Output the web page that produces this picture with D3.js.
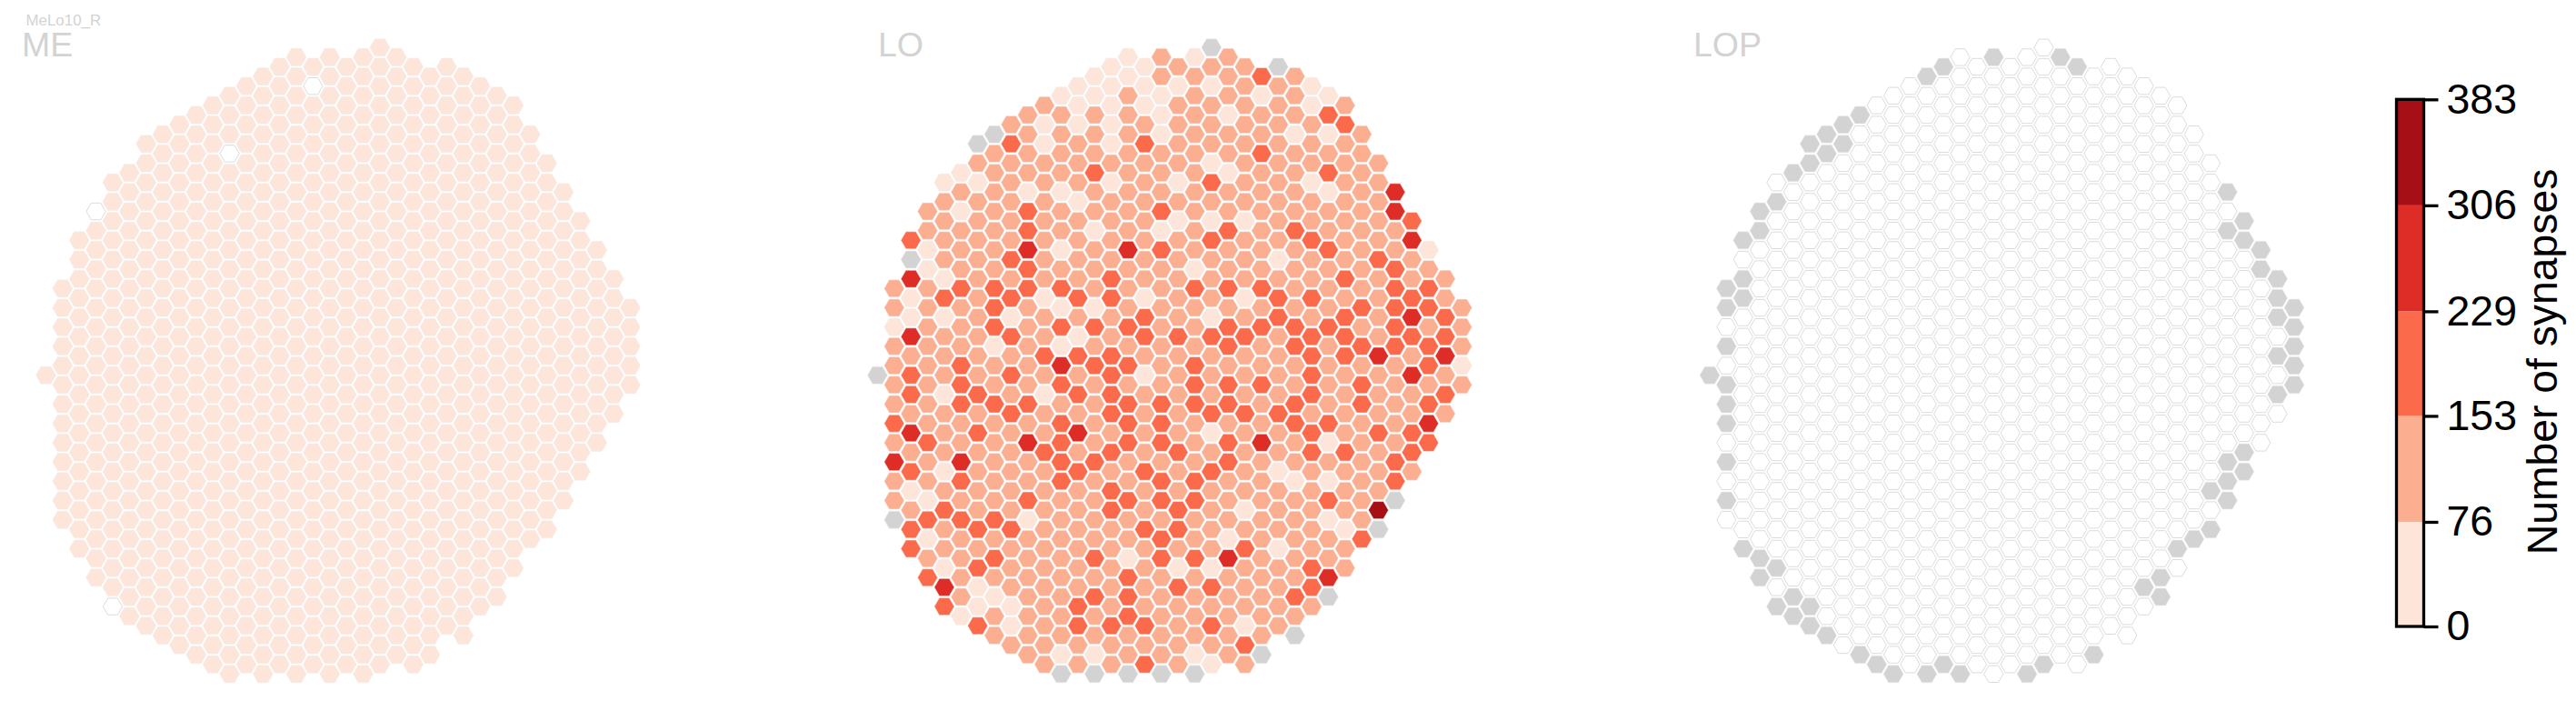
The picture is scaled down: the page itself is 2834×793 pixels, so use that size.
<!DOCTYPE html>
<html>
<head>
<meta charset="utf-8">
<script src="https://cdn.jsdelivr.net/npm/d3@7"></script>
<style>html,body{margin:0;padding:0;background:#fff}svg{display:block}text{font-family:"Liberation Sans",Arial,sans-serif}</style>
</head>
<body>
<script>
const neuropils = ["ME", "LO", "LOP"];
const cellType = "MeLo10_R";
const colorbarTicks = [0, 76, 153, 229, 306, 383];
const binColors = ["#fee5d9", "#fcae91", "#fb6a4a", "#de2d26", "#a50f15"];
const missingColor = "#d3d3d3";
const colorbarTitle = "Number of synapses";

// hex rows: row id, first column id in the row (columns step by two), one code per cell in LO
const rowIds = [-34,-33,-32,-31,-30,-29,-28,-27,-26,-25,-24,-23,-22,-21,-20,-19,-18,-17,-16,-15,-14,-13,-12,-11,-10,-9,-8,-7,-6,-5,-4,-3,-2,-1,0,1,2,3,4,5,6,7,8,9,10,11,12,13,14,15,16,17,18,19,20,21,22,23,24,25,26,27,28,29,30,31];
const rowFirstCol = [20,15,14,13,12,11,10,9,8,7,6,7,6,5,4,5,4,3,4,3,2,3,2,3,2,1,2,1,2,1,2,1,2,1,0,1,2,1,2,1,2,1,2,1,2,1,2,1,2,1,2,3,2,3,4,3,4,5,4,5,6,7,8,9,10,11];
// LO codes: 1..5 = colour bin, g = no column
const loCodes = [
"g","1212","11222g","1122232","11111221","112122121","2111222212","2222121223","21112222223",
"g22221222112","g31213222222","222222223222","2222222122222","1222322212232","11222121322122",
"22112222222124","22221222222222","212322232222224","222222211122223","222321212323222",
"3222222223223224","1224124322223221","g223222222212232","1223222212222232","41222232222223222",
"22333322233322233","13231331221332232","222321122222223332","11212223212323243","122323332233332322",
"42232123333233233","222121222232323332","22223332222233424","223224332322222231","g32232231222232242",
"223223222333223222","31321332222232223","22333223333232323","22232232233322222","32222323322233224",
"4232242221223233","23224323323421223","2222323232223323","4242233222322223","3122232323212222",
"2232232233221123","122222322222222","212232233322232g","232222323212225","g33312222222212",
"32332223322221g","12222223212223","32222222223122","2232231334222","1322222112232",
"3222223222224","412222233223","21223322223g","311232222222","12222322222",
"3123332312","222222222g","22222223","2112212g","2223212","ggggg"];
// representative synapse count per bin
const binCounts = {1: 38, 2: 115, 3: 191, 4: 268, 5: 345};
// ME: every column in the lowest bin except these empty ones [col, row]
const meCount = 38;
const meEmpty = [[16,-30],[11,-23],[3,-17],[4,24]];
// LOP: every column is empty (0 synapses) except these with no column [col, row]
const lopMissing = [[17,-33],[21,-33],[14,-32],[22,-32],[13,-31],[9,-27],[8,-26],[7,-25],[6,-24],[8,-24],[7,-23],[6,-22],[5,-21],[4,-18],[3,-17],[3,-15],[2,-14],[2,-10],[1,-9],[2,-8],[1,-7],[1,-3],[31,-19],[32,-16],[31,-15],[32,-14],[33,-13],[33,-11],[34,-10],[34,-8],[35,-7],[34,-6],[35,-5],[35,-3],[34,-2],[35,-1],[0,0],[1,1],[1,3],[1,5],[1,9],[1,13],[2,18],[3,19],[4,20],[3,21],[5,23],[4,24],[6,24],[5,25],[6,26],[7,27],[9,29],[10,30],[11,31],[13,31],[14,30],[15,31],[19,31],[20,30],[23,29],[35,1],[34,2],[32,8],[31,9],[32,10],[31,11],[30,12],[31,13],[30,16],[29,17],[28,18],[27,21],[26,22],[27,23]];

const W = 2834, H = 793;
const svg = d3.select("body").append("svg").attr("width", W).attr("height", H);

const key = (c, r) => c + "," + r;
const meEmptySet = new Set(meEmpty.map(d => key(d[0], d[1])));
const lopMissSet = new Set(lopMissing.map(d => key(d[0], d[1])));

const cells = rowIds.flatMap((r, i) => Array.from(loCodes[i], (code, j) => {
  const c = rowFirstCol[i] + 2 * j;
  return {
    c, r,
    ME: meEmptySet.has(key(c, r)) ? 0 : meCount,
    LO: code === "g" ? null : binCounts[code],
    LOP: lopMissSet.has(key(c, r)) ? null : 0
  };
}));

const color = d3.scaleThreshold().domain(colorbarTicks.slice(1, -1)).range(binColors);
const fillOf = v => v === null ? missingColor : v === 0 ? "#ffffff" : color(v);

const panelLeft = {ME: 50.5, LO: 965.4, LOP: 1881};
const y = d3.scaleLinear().domain([-34, 31]).range([52.3, 741.3]);
const hexPath = R => d3.line()(d3.range(6).map(k => [R * Math.cos(k * Math.PI / 3), R * Math.sin(k * Math.PI / 3)])) + "Z";
const filledHex = hexPath(11), emptyHex = hexPath(10.6);

neuropils.forEach(n => {
  const x = d3.scaleLinear().domain([0, 35]).range([panelLeft[n], panelLeft[n] + 35 * 18.37]);
  svg.append("g").selectAll("path").data(cells).join("path")
    .attr("d", d => d[n] === 0 ? emptyHex : filledHex)
    .attr("transform", d => `translate(${x(d.c)},${y(d.r)})`)
    .attr("fill", d => fillOf(d[n]))
    .attr("stroke", d => d[n] === 0 ? "#dcdcdc" : "#eeeeee")
    .attr("stroke-width", d => d[n] === 0 ? 1 : 0.6);
});

const titleAt = {ME: 24, LO: 966, LOP: 1863};
neuropils.forEach(n => {
  svg.append("text").attr("x", titleAt[n]).attr("y", 61.5).attr("font-size", 37.5).attr("fill", "#d3d3d3").text(n);
});
svg.append("text").attr("x", 28.5).attr("y", 28).attr("font-size", 16.9).attr("fill", "#d3d3d3").text(cellType);

// colour bar
const cb = d3.scaleLinear().domain([0, 383]).range([689, 109.3]);
const cbX = 2636.5, cbW = 30;
const edges = colorbarTicks;
svg.append("g").selectAll("rect").data(binColors).join("rect")
  .attr("x", cbX).attr("width", cbW)
  .attr("y", (d, i) => cb(edges[i + 1]))
  .attr("height", (d, i) => cb(edges[i]) - cb(edges[i + 1]))
  .attr("fill", d => d);
svg.append("rect").attr("x", cbX).attr("y", cb(383)).attr("width", cbW).attr("height", cb(0) - cb(383))
  .attr("fill", "none").attr("stroke", "#000").attr("stroke-width", 3.3);
const axis = svg.append("g").attr("transform", `translate(${cbX + cbW},0)`)
  .call(d3.axisRight(cb).tickValues(colorbarTicks).tickFormat(d3.format("d")).tickSize(16).tickPadding(9));
axis.select(".domain").remove();
axis.selectAll("line").attr("stroke", "#000").attr("stroke-width", 3.3);
axis.selectAll("text").attr("font-size", 46.5).attr("fill", "#000").attr("font-family", '"Liberation Sans",Arial,sans-serif');
svg.append("text").attr("transform", `translate(2813,398) rotate(-90)`)
  .attr("text-anchor", "middle").attr("font-size", 46.3).attr("fill", "#000").text(colorbarTitle);
</script>
</body>
</html>
